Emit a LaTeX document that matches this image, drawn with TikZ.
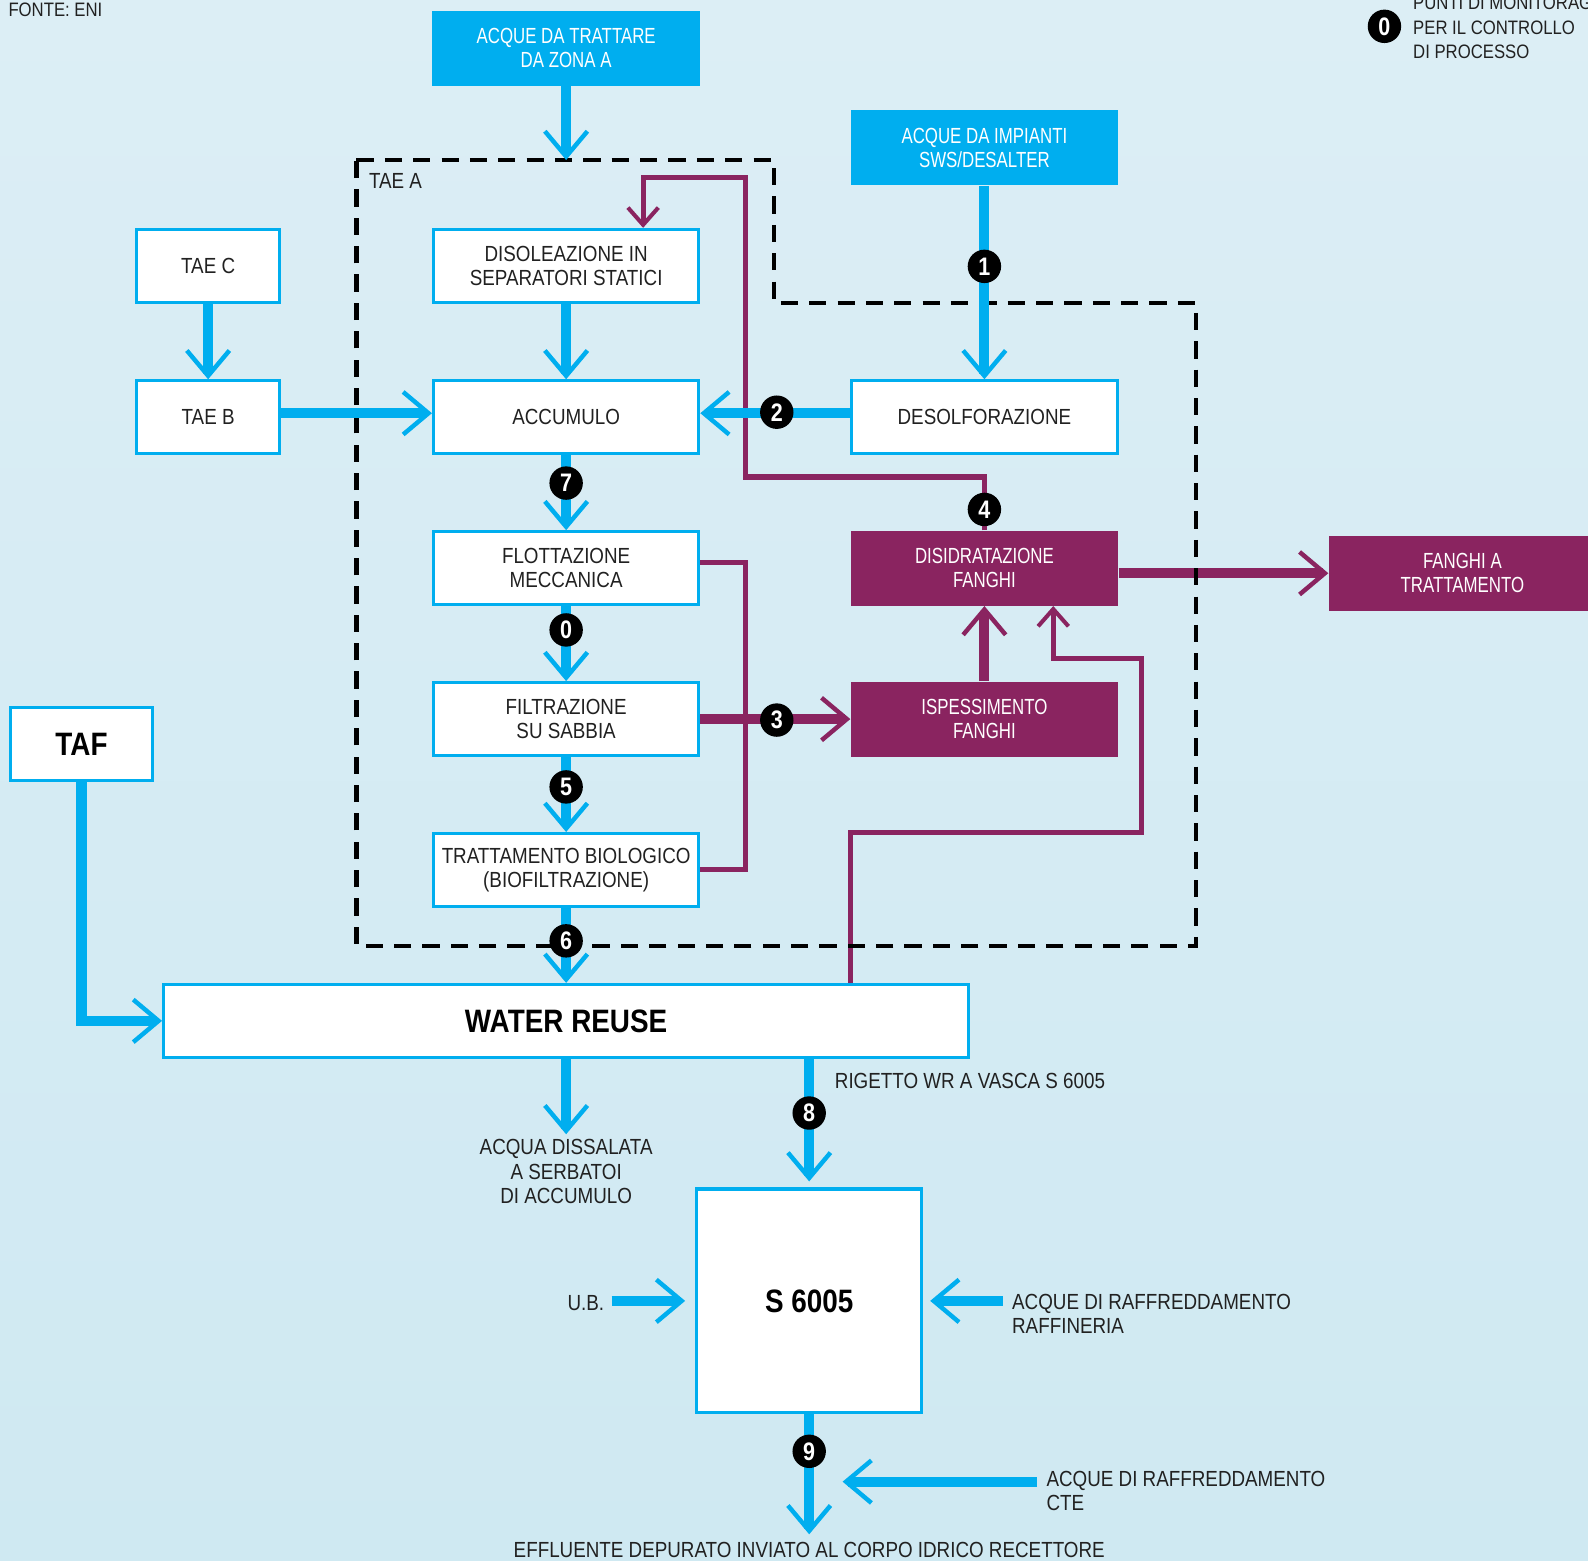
\documentclass[tikz,border=0pt]{standalone}
\usepackage{fontspec}
\setmainfont{Liberation Sans}[FakeStretch=0.86]
\newfontfamily\wfont{Liberation Sans}[FakeStretch=0.77]
\newfontfamily\numfont{Liberation Sans}[FakeStretch=0.85]
\usetikzlibrary{arrows.meta,calc}
\definecolor{eniblue}{RGB}{0,174,239}
\definecolor{enipurple}{RGB}{138,36,96}
\definecolor{bgtop}{RGB}{220,238,245}
\definecolor{bgbot}{RGB}{207,233,242}
\definecolor{txt}{RGB}{33,33,33}
\tikzset{
  base/.style={align=center, text=txt, inner sep=0pt, font=\fontsize{10.8}{12}\selectfont},
  wbox/.style={base, draw=eniblue, fill=white, line width=1.5pt, minimum width=131pt, minimum height=36pt},
  sbox/.style={wbox, minimum width=70.5pt},
  bbox/.style={base, fill=eniblue, text=white, font=\wfont\fontsize{10.8}{12}\selectfont, minimum width=132pt, minimum height=37pt},
  pbox/.style={bbox, fill=enipurple},
  title/.style={font=\bfseries\fontsize{16}{18}\selectfont, text=black},
  small/.style={base, font=\fontsize{9.6}{12}\selectfont},
  marker/.style={circle, fill=black, text=white, inner sep=0pt, minimum size=16.5pt, font=\numfont\bfseries\fontsize{12.5}{12.5}\selectfont},
  bigtip/.style={-{Straight Barb[length=12.5pt, width=21pt, line width'=2.2pt]}},
  smalltip/.style={-{Straight Barb[length=8.5pt, width=15pt, line width'=2pt]}},
  blueflow/.style={draw=eniblue, line width=5pt, bigtip},
  purpleflow/.style={draw=enipurple, line width=5pt, bigtip},
  purpleline/.style={draw=enipurple, line width=2.5pt},
  purplereturn/.style={purpleline, smalltip},
  taebox/.style={draw=black, line width=2pt, dash pattern=on 8.5pt off 5.5pt},
}
\begin{document}
\begin{tikzpicture}[x=0.5pt,y=-0.5pt]
\clip (0,0) rectangle (1568,1541);
\shade[top color=bgtop, bottom color=bgbot] (0,0) rectangle (1568,1541);

% boxes
\node[bbox] (zonaA) at (559,47.5) {ACQUE DA TRATTARE\\DA ZONA A};
\node[bbox] (sws) at (972,146) {ACQUE DA IMPIANTI\\SWS/DESALTER};
\node[wbox] (disol) at (559,262.5) {DISOLEAZIONE IN\\SEPARATORI STATICI};
\node[wbox] (accum) at (559,412) {ACCUMULO};
\node[wbox] (flott) at (559,561) {FLOTTAZIONE\\MECCANICA};
\node[wbox] (filtr) at (559,710) {FILTRAZIONE\\SU SABBIA};
\node[wbox] (tratt) at (559,859) {TRATTAMENTO BIOLOGICO\\(BIOFILTRAZIONE)};
\node[sbox] (taec) at (205.5,262.5) {TAE C};
\node[sbox] (taeb) at (205.5,412) {TAE B};
\node[wbox] (desolf) at (972,412) {DESOLFORAZIONE};
\node[pbox] (disidr) at (972,561) {DISIDRATAZIONE\\FANGHI};
\node[pbox] (ispess) at (972,710) {ISPESSIMENTO\\FANGHI};
\node[pbox] (fanghi) at (1444,566) {FANGHI A\\TRATTAMENTO};
\node[sbox, title] (taf) at (80.5,735) {TAF};
\node[wbox, title, minimum width=397.5pt] (wr) at (559,1008) {WATER REUSE};
\node[wbox, title, minimum width=111pt, minimum height=110.5pt] (s6005) at (799,1284.5) {S 6005};

% labels
\node[small, anchor=west] (fonte) at (8,10) {FONTE: ENI};
\node[small, anchor=west, align=left] (legend) at (1395,27) {PUNTI DI MONITORAGGIO\\PER IL CONTROLLO\\DI PROCESSO};
\node[base, anchor=west] (taeA) at (364,179) {TAE A};
\node[base] (dissal) at (559,1157) {ACQUA DISSALATA\\A SERBATOI\\DI ACCUMULO};
\node[base, anchor=west] (rigetto) at (824,1067) {RIGETTO WR A VASCA S 6005};
\node[base, anchor=east] (ub) at (597,1287) {U.B.};
\node[base, anchor=west, align=left] (raff) at (999,1297) {ACQUE DI RAFFREDDAMENTO\\RAFFINERIA};
\node[base, anchor=west, align=left] (cte) at (1033,1472) {ACQUE DI RAFFREDDAMENTO\\CTE};
\node[base] (effl) at (799,1530) {EFFLUENTE DEPURATO INVIATO AL CORPO IDRICO RECETTORE};

% helper coordinates
\coordinate (taeAin) at (559,158);
\coordinate (ctetip) at (832,1463);
\coordinate (loopR) at (736,471);
\coordinate (loopT) at (635,175);
\coordinate (brk) at (736,0);
\coordinate (w1) at (840,822);
\coordinate (w2) at (1127,650);
\coordinate (w3) at (1040,650);

% purple sludge lines
\draw[purplereturn] (disidr.north) |- (loopR) |- (loopT) -- (loopT |- disol.north);
\draw[purpleline] ([yshift=3pt]flott.east) -| (brk |- tratt.east) -- (tratt.east);
\draw[purpleflow] (filtr.east) -- (ispess.west);
\draw[purpleflow] (ispess.north) -- (disidr.south);
\draw[purpleflow] (disidr.east |- fanghi.west) -- (fanghi.west);
\draw[purplereturn] (w1 |- wr.north) -- (w1) -| (w2) -| (w3 |- disidr.south);

% TAE A boundary
\draw[taebox] (352,158) -- (764,158) -- (764,299) -- (1181,299) -- (1181,934) -- (352,934) -- cycle;

% blue water lines
\draw[blueflow] (zonaA.south) -- (taeAin);
\draw[blueflow] (disol.south) -- (accum.north);
\draw[blueflow] (taec.south) -- (taeb.north);
\draw[blueflow] ([yshift=2pt]taeb.east) -- ([yshift=2pt]accum.west);
\draw[blueflow] (sws.south) -- (desolf.north);
\draw[blueflow] ([yshift=2pt]desolf.west) -- ([yshift=2pt]accum.east);
\draw[blueflow] (accum.south) -- (flott.north);
\draw[blueflow] (flott.south) -- (filtr.north);
\draw[blueflow] (filtr.south) -- (tratt.north);
\draw[blueflow] (tratt.south) -- (wr.north);
\draw[blueflow] (taf.south) |- (wr.west);
\draw[blueflow, shorten >=2.5pt] (wr.south) -- (dissal.north);
\draw[blueflow, shorten >=3pt] (wr.south -| s6005.north) -- (s6005.north);
\draw[blueflow, shorten <=3.5pt, shorten >=5pt] (ub.east |- s6005.west) -- (s6005.west);
\draw[blueflow, shorten <=4.5pt, shorten >=3.5pt] (raff.west |- s6005.east) -- (s6005.east);
\draw[blueflow, shorten >=3.5pt] (s6005.south) -- (effl.north);
\draw[blueflow, shorten <=4.5pt] (cte.west |- ctetip) -- (ctetip);

% monitoring points
\node[marker] (leg0) at (1367,26) {0};
\node[marker] (m1) at (972,263) {1};
\node[marker] (m2) at (767,407) {2};
\node[marker] (m3) at (767,711) {3};
\node[marker] (m4) at (972,503) {4};
\node[marker] (m5) at (559,777) {5};
\node[marker] (m6) at (559,929) {6};
\node[marker] (m7) at (559,477) {7};
\node[marker] (m0) at (559,622) {0};
\node[marker] (m8) at (799,1099) {8};
\node[marker] (m9) at (799,1433) {9};
\end{tikzpicture}
\end{document}
